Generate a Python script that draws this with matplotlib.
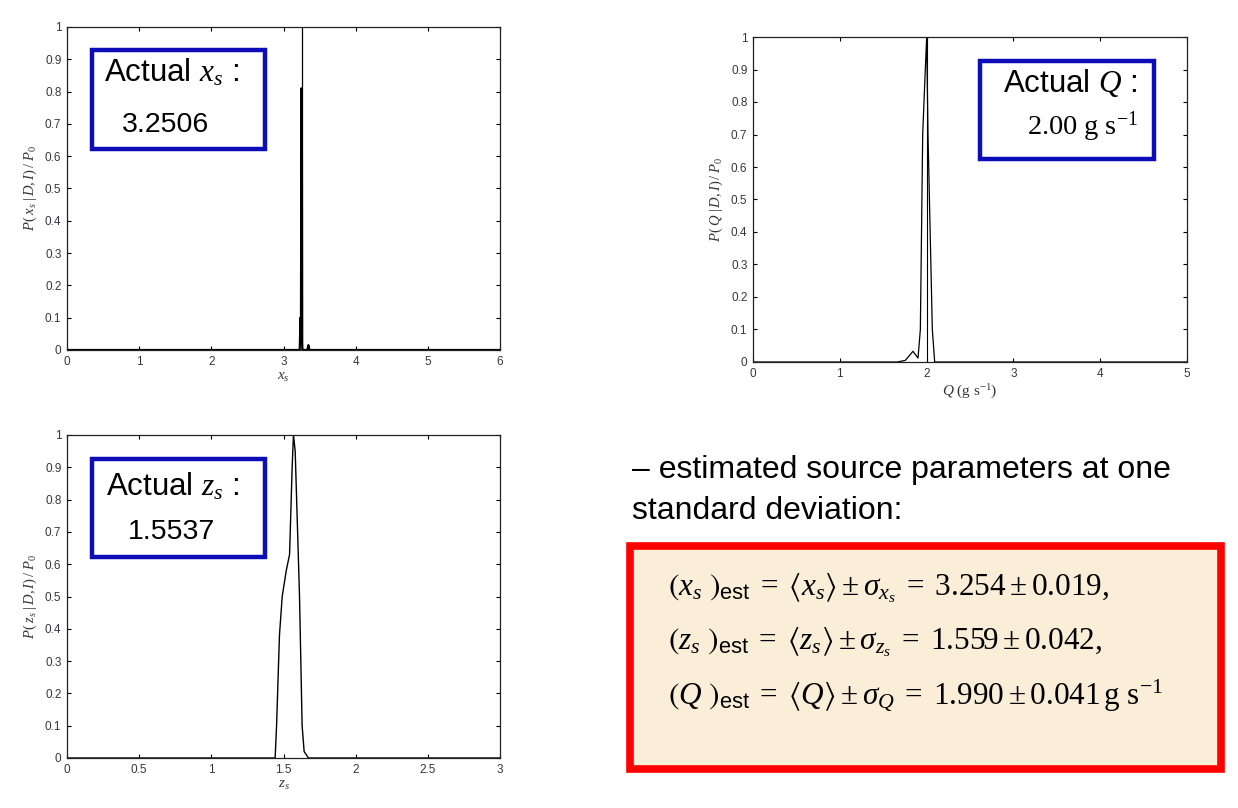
import matplotlib
matplotlib.use("Agg")
import matplotlib.pyplot as plt
from matplotlib.patches import Rectangle

plt.rcParams['font.family'] = ['Liberation Sans', 'DejaVu Sans']
plt.rcParams['mathtext.fontset'] = 'custom'
plt.rcParams['mathtext.rm'] = 'Liberation Serif'
plt.rcParams['mathtext.it'] = 'Liberation Serif:italic'
plt.rcParams['mathtext.bf'] = 'Liberation Serif:bold'
plt.rcParams['mathtext.sf'] = 'Liberation Sans'
plt.rcParams['mathtext.fallback'] = 'stix'

# ---------------- data ----------------
xs_grid = [0.0, 3.20, 3.225, 3.235, 3.242, 3.247, 3.250, 3.254, 3.258, 3.262, 3.27, 3.33, 3.345, 3.36, 6.0]
xs_post = [0.0, 0.0, 0.0, 0.10, 0.02, 0.81, 0.81, 0.81, 0.02, 0.0, 0.0, 0.0, 0.015, 0.0, 0.0]
xs_actual = 3.2506

q_grid = [0.0, 1.66, 1.755, 1.843, 1.901, 1.928, 1.955, 1.985, 2.001, 2.016, 2.066, 2.093, 5.0]
q_post = [0.0, 0.0, 0.005, 0.033, 0.012, 0.10, 0.70, 0.90, 1.0, 0.70, 0.10, 0.0, 0.0]
q_actual = 2.00

zs_grid = [0.0, 1.442, 1.452, 1.472, 1.491, 1.519, 1.542, 1.560, 1.569, 1.581, 1.611, 1.629, 1.643, 1.673, 3.0]
zs_post = [0.0, 0.0, 0.10, 0.38, 0.50, 0.58, 0.63, 0.90, 1.0, 0.95, 0.50, 0.10, 0.02, 0.0, 0.0]
zs_actual = 1.5537

est_names = ['x_s', 'z_s', 'Q']
est_means = [3.254, 1.559, 1.990]
est_sigmas = [0.019, 0.042, 0.041]

y_ticks = [0, 0.1, 0.2, 0.3, 0.4, 0.5, 0.6, 0.7, 0.8, 0.9, 1.0]
y_ticklabels = ['0', '0.1', '0.2', '0.3', '0.4', '0.5', '0.6', '0.7', '0.8', '0.9', '1']
xs_ticks = [0, 1, 2, 3, 4, 5, 6]
q_ticks = [0, 1, 2, 3, 4, 5]
zs_ticks = [0, 0.5, 1, 1.5, 2, 2.5, 3]
zs_ticklabels = ['0', '0.5', '1', '1.5', '2', '2.5', '3']

# ---------------- figure ----------------
W, H = 1238, 808
fig = plt.figure(figsize=(W / 100, H / 100), dpi=100)
fig.patch.set_facecolor('white')

def px_axes(l, t, r, b):
    return fig.add_axes([l / W, 1 - b / H, (r - l) / W, (b - t) / H])

tick_col = '#3b3340'

def style(ax, xlim, xticks, xticklabels=None):
    ax.set_xlim(*xlim)
    ax.set_ylim(0, 1)
    ax.set_xticks(xticks)
    if xticklabels is not None:
        ax.set_xticklabels(xticklabels)
    ax.set_yticks(y_ticks)
    ax.set_yticklabels(y_ticklabels)
    ax.tick_params(direction='in', top=True, right=True, length=3, width=0.8,
                   labelsize=8.5, labelcolor=tick_col, pad=4)
    for s in ax.spines.values():
        s.set_linewidth(0.9)
        s.set_color('#222222')

def ylab(ax, v):
    ax.set_ylabel(r'$P(\;' + v + r'\;|\,D,I)\,/\;P_0$', fontsize=10.5, color=tick_col, labelpad=4)

ax1 = px_axes(67, 27, 500, 350)
ax1.plot(xs_grid, xs_post, color='black', lw=1.6)
ax1.axvline(xs_actual, color='black', lw=0.9)
style(ax1, (0, 6), xs_ticks)
ax1.set_xlabel(r'$x_s$', fontsize=11, color=tick_col, labelpad=2)
ylab(ax1, 'x_s')

ax2 = px_axes(753, 37, 1187, 362)
ax2.plot(q_grid, q_post, color='black', lw=0.9)
ax2.axvline(q_actual, color='black', lw=0.8)
style(ax2, (0, 5), q_ticks)
ax2.set_xlabel(r'$Q\ (\mathrm{g\ s}^{-1})$', fontsize=11, color=tick_col, labelpad=2)
ylab(ax2, 'Q')

ax3 = px_axes(67, 435, 500, 758)
ax3.plot(zs_grid, zs_post, color='black', lw=1.0)
style(ax3, (0, 3), zs_ticks, zs_ticklabels)
ax3.set_xlabel(r'$z_s$', fontsize=11, color=tick_col, labelpad=2)
ylab(ax3, 'z_s')

# ---------------- overlay (annotations) ----------------
ov = fig.add_axes([0, 0, 1, 1], zorder=10)
ov.set_xlim(0, W)
ov.set_ylim(H, 0)
ov.axis('off')
ov.patch.set_alpha(0)

blue = '#0c0cb8'
for (l, t, r, b) in [(92, 50, 265, 149), (980, 61, 1154, 159), (92, 459, 265, 557)]:
    ov.add_patch(Rectangle((l, t), r - l, b - t, fill=True, facecolor='white',
                           edgecolor=blue, lw=3.2))

ov.text(104, 73, r'Actual $x_s$ :', fontsize=22.5, va='center', ha='left')
ov.text(122, 125, f'{xs_actual:.4f}', fontsize=20.5, va='center', ha='left')

ov.text(1003, 83, r'Actual $Q$ :', fontsize=22.5, va='center', ha='left')
ov.text(1027, 127, r'$\mathrm{' + f'{q_actual:.2f}' + r'\ g\ s}^{-1}$', fontsize=20.5,
        va='center', ha='left')

ov.text(106, 487, r'Actual $z_s$ :', fontsize=22.5, va='center', ha='left')
ov.text(128, 532, f'{zs_actual:.4f}', fontsize=20.5, va='center', ha='left')

ov.text(632, 470, '– estimated source parameters at one', fontsize=23, va='center', ha='left')
ov.text(632, 511, 'standard deviation:', fontsize=23, va='center', ha='left')

ov.add_patch(Rectangle((630, 546), 591, 223, facecolor='#faeed8', edgecolor='#ff0000', lw=5.5))

rows_y = [588, 642, 696]
for name, m, s, y in zip(est_names, est_means, est_sigmas, rows_y):
    v = name
    unit = r'\,\mathrm{g\ s}^{-1}' if name == 'Q' else ','
    txt = (r'$\left(' + v + r'\ \right)_{\mathsf{est}} \;=\; \langle ' + v + r'\rangle \pm \sigma_{' + v +
           r'} \;=\; ' + f'{m:.3f}' + r' \pm ' + f'{s:.3f}' + unit + '$')
    ov.text(668, y, txt, fontsize=22.5, va='center', ha='left')

fig.savefig('out.png', dpi=100)
